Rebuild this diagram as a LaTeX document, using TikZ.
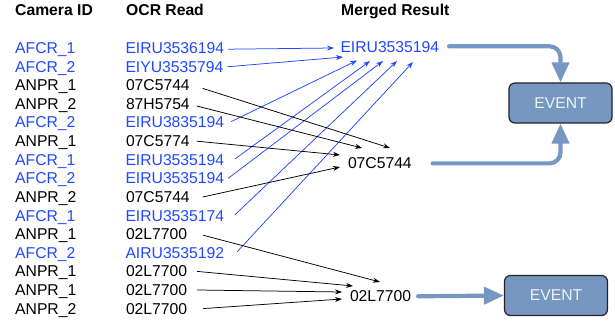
\documentclass[tikz,border=0pt]{standalone}
\usepackage{fontspec}
\setmainfont{Liberation Sans}
\usetikzlibrary{arrows.meta}
\definecolor{txtblue}{RGB}{32,72,255}
\definecolor{evfill}{RGB}{118,151,192}
\definecolor{evline}{RGB}{34,34,40}
\definecolor{evtext}{RGB}{238,242,248}
\definecolor{thickc}{RGB}{118,151,196}
\begin{document}
\begin{tikzpicture}[x=1pt,y=-1pt,
  lbl/.style={anchor=base west,inner sep=0pt,font=\fontsize{15.7}{18}\selectfont},
  hdr/.style={lbl,font=\fontsize{15.7}{18}\selectfont\bfseries},
  bluet/.style={lbl,text=txtblue},
  ocrb/.style={anchor=base west,inner sep=0pt,outer sep=0pt,font=\fontsize{15.7}{18}\selectfont,text=txtblue},
  ocrk/.style={anchor=base west,inner sep=0pt,outer sep=0pt,font=\fontsize{15.7}{18}\selectfont},
  bconn/.style={draw=txtblue,line width=0.75pt,-{Stealth[length=7pt,width=5pt]}},
  kconn/.style={draw=black,line width=0.75pt,-{Stealth[length=7pt,width=5pt]}},
  fat/.style={draw=thickc,line width=4.2pt,line cap=round,-{Triangle[length=20pt,width=17pt]}},
  evbox/.style={draw=evline,line width=1.2pt,fill=evfill,rounded corners=6pt,
    minimum width=103pt,minimum height=40pt,inner sep=0pt,text=evtext,
    font=\fontsize{15.7}{18}\selectfont}]
\useasboundingbox (0,0) rectangle (615,323);
% headers
\node[hdr] (hcam) at (15,15.2) {Camera ID};
\node[hdr] (hocr) at (126,15.2) {OCR Read};
\node[hdr] (hmer) at (341,15.2) {Merged Result};
% camera column
\foreach \i/\t/\c in {0/AFCR\_1/txtblue,1/AFCR\_2/txtblue,2/ANPR\_1/black,3/ANPR\_2/black,
  4/AFCR\_2/txtblue,5/ANPR\_1/black,6/AFCR\_1/txtblue,7/AFCR\_2/txtblue,8/ANPR\_2/black,
  9/AFCR\_1/txtblue,10/ANPR\_1/black,11/AFCR\_2/txtblue,12/ANPR\_1/black,13/ANPR\_1/black,
  14/ANPR\_2/black}
  \node[lbl,text=\c] (c\i) at (15,53.6+18.6*\i) {\t};
% OCR column
\node[ocrb] (o0) at (125.5,53.6+18.6*0) {EIRU3536194};
\node[ocrb] (o1) at (125.5,53.6+18.6*1) {EIYU3535794};
\node[ocrk] (o2) at (126,53.6+18.6*2) {07C5744};
\node[ocrk] (o3) at (126,53.6+18.6*3) {87H5754};
\node[ocrb] (o4) at (125.5,53.6+18.6*4) {EIRU3835194};
\node[ocrk] (o5) at (126,53.6+18.6*5) {07C5774};
\node[ocrb] (o6) at (125.5,53.6+18.6*6) {EIRU3535194};
\node[ocrb] (o7) at (125.5,53.6+18.6*7) {EIRU3535194};
\node[ocrk] (o8) at (126,53.6+18.6*8) {07C5744};
\node[ocrb] (o9) at (125.5,53.6+18.6*9) {EIRU3535174};
\node[ocrk] (o10) at (126,53.6+18.6*10) {02L7700};
\node[ocrb] (o11) at (125.5,53.6+18.6*11) {AIRU3535192};
\node[ocrk] (o12) at (126,53.6+18.6*12) {02L7700};
\node[ocrk] (o13) at (126,53.6+18.6*13) {02L7700};
\node[ocrk] (o14) at (126,53.6+18.6*14) {02L7700};
% merged results
\node[ocrb] (m1) at (340.5,52.7) {EIRU3535194};
\node[ocrk] (m2) at (348,168.8) {07C5744};
\node[ocrk] (m3) at (350,301.7) {02L7700};
% events
\node[evbox] (ev1) at (560.5,103) {EVENT};
\node[evbox] (ev2) at (556,295.5) {EVENT};
% arrow tips
\coordinate (t0) at (334,48);
\coordinate (t1) at (343,57);
\coordinate (t4) at (357,60.5);
\coordinate (t6) at (370,61);
\coordinate (t7) at (383,61);
\coordinate (t9) at (397,61);
\coordinate (t11) at (413,62);
\coordinate (t2) at (390,148);
\coordinate (t3) at (362,148);
\coordinate (t5) at (340,155);
\coordinate (t8) at (340,167);
\coordinate (t10) at (380,282);
\coordinate (t12) at (353,286);
\coordinate (t13) at (342,292);
\coordinate (t14) at (342,299);
% blue connectors
\draw[bconn] ([xshift=4pt,yshift=-1pt]o0.east) -- (t0);
\draw[bconn] ([xshift=4pt]o1.east) -- (t1);
\draw[bconn] ([xshift=7pt,yshift=1pt]o4.east) -- (t4);
\draw[bconn] ([xshift=11pt,yshift=1pt]o6.east) -- (t6);
\draw[bconn] ([xshift=4pt]o7.east) -- (t7);
\draw[bconn] ([xshift=11pt,yshift=1pt]o9.east) -- (t9);
\draw[bconn] ([xshift=13pt,yshift=1pt]o11.east) -- (t11);
% black connectors
\draw[kconn] ([xshift=13pt,yshift=-3pt]o2.east) -- (t2);
\draw[kconn] ([xshift=7pt,yshift=-2pt]o3.east) -- (t3);
\draw[kconn] ([xshift=7pt]o5.east) -- (t5);
\draw[kconn] ([xshift=13pt]o8.east) -- (t8);
\draw[kconn] ([xshift=16pt,yshift=-1pt]o10.east) -- (t10);
\draw[kconn] ([xshift=10pt]o12.east) -- (t12);
\draw[kconn] ([xshift=10pt]o13.east) -- (t13);
\draw[kconn] ([xshift=16pt]o14.east) -- (t14);
% thick arrows
\draw[fat,rounded corners=11pt] ([xshift=10pt,yshift=1pt]m1.east) -| (ev1.north);
\draw[fat,rounded corners=11pt] ([xshift=21pt]m2.east) -| (ev1.south);
\draw[fat] ([xshift=7pt]m3.east) -- (ev2.west);
\end{tikzpicture}
\end{document}
